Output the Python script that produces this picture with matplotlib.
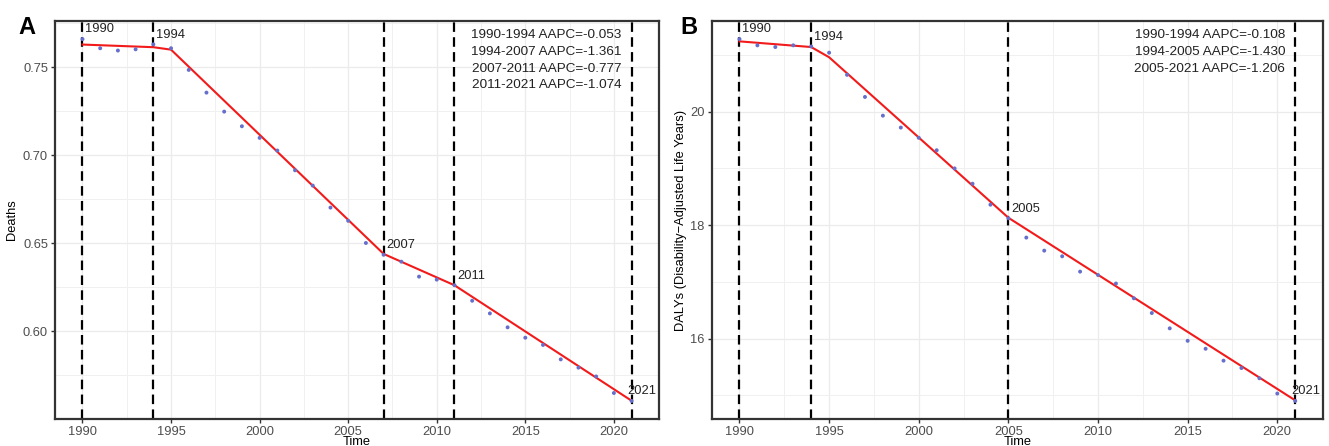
import numpy as np
import matplotlib as mpl
import matplotlib.pyplot as plt
from matplotlib.ticker import MultipleLocator, FormatStrFormatter

mpl.rc('font', family='Liberation Sans', size=9.3)

years = list(range(1990, 2022))

# panel A: deaths
deaths = [0.7660, 0.7608, 0.7595, 0.7602, 0.7630, 0.7608, 0.7485, 0.7356,
          0.7248, 0.7165, 0.7099, 0.7027, 0.6915, 0.6828, 0.6703, 0.6628,
          0.6502, 0.6435, 0.6396, 0.6311, 0.6294, 0.6262, 0.6174, 0.6102,
          0.6023, 0.5964, 0.5923, 0.5841, 0.5794, 0.5744, 0.5650, 0.5605]
deaths_fit_years = [1990, 1994, 1995, 2007, 2011, 2021]
deaths_fit = [0.7629, 0.7614, 0.7600, 0.6440, 0.6262, 0.5606]
deaths_joins = [1990, 1994, 2007, 2011, 2021]
deaths_aapc = ['1990-1994 AAPC=-0.053', '1994-2007 AAPC=-1.361',
               '2007-2011 AAPC=-0.777', '2011-2021 AAPC=-1.074']

# panel B: DALYs
dalys = [21.28, 21.17, 21.14, 21.17, 21.15, 21.04, 20.65, 20.26,
         19.93, 19.72, 19.54, 19.32, 19.00, 18.73, 18.36, 18.12,
         17.78, 17.55, 17.45, 17.18, 17.12, 16.97, 16.71, 16.45,
         16.18, 15.96, 15.82, 15.61, 15.48, 15.30, 15.03, 14.90]
dalys_fit_years = [1990, 1994, 1995, 2005, 2021]
dalys_fit = [21.24, 21.14, 20.96, 18.13, 14.91]
dalys_joins = [1990, 1994, 2005, 2021]
dalys_aapc = ['1990-1994 AAPC=-0.108', '1994-2005 AAPC=-1.430',
              '2005-2021 AAPC=-1.206']


def panel(ax, obs, fit_x, fit_y, joins, aapc, ylab, ymajor, yfmt, ylab_x):
    for y in joins:
        ax.axvline(y, color='black', lw=1.6, dashes=(4.3, 2.4), zorder=2)
    ax.plot(fit_x, fit_y, color='#F21A1A', lw=1.5, zorder=3)
    ax.scatter(years, obs, s=8, color='#6670CC', edgecolors='none', zorder=4)
    for y in joins:
        v = obs[years.index(y)]
        dx = -3 if y == joins[-1] else 2
        ax.annotate(str(y), (y, v), xytext=(dx, 7), textcoords='offset points',
                    ha='left', va='center', fontsize=9.3, color='#222222',
                    zorder=5)
    # one line of AAPC text each, 16.6 px apart
    for i, t in enumerate(aapc):
        ax.annotate(t, (0.938, 0.9565), xycoords='axes fraction',
                    xytext=(0, -16.6 * i), textcoords='offset pixels',
                    ha='right', va='baseline', fontsize=9.7, color='#222222')

    rng = max(obs) - min(obs)
    ax.set_ylim(min(obs) - 0.05 * rng, max(obs) + 0.05 * rng)
    ax.set_xlim(1988.45, 2022.55)
    ax.xaxis.set_major_locator(MultipleLocator(5))
    ax.xaxis.set_minor_locator(MultipleLocator(2.5))
    ax.yaxis.set_major_locator(MultipleLocator(ymajor))
    ax.yaxis.set_minor_locator(MultipleLocator(ymajor / 2))
    ax.yaxis.set_major_formatter(FormatStrFormatter(yfmt))
    ax.grid(which='major', color='#EBEBEB', lw=0.9, zorder=0)
    ax.grid(which='minor', color='#F0F0F0', lw=0.7, zorder=0)
    ax.set_axisbelow(True)
    ax.tick_params(which='major', length=3, width=1, color='#333333',
                   labelcolor='#4D4D4D', labelsize=9.3, pad=2)
    ax.tick_params(which='minor', length=0)
    for s in ax.spines.values():
        s.set_linewidth(1.6)
        s.set_color('#333333')
    ax.set_xlabel('Time', fontsize=9.3)
    ax.xaxis.set_label_coords(0.5, -0.043)
    ax.set_ylabel(ylab, fontsize=9.3)
    ax.yaxis.set_label_coords(ylab_x, 0.5)


fig = plt.figure(figsize=(13.29, 4.46), dpi=100)
ax1 = fig.add_axes([0.0414, 0.0605, 0.4545, 0.8924])
ax2 = fig.add_axes([0.5355, 0.0605, 0.4600, 0.8924])

panel(ax1, deaths, deaths_fit_years, deaths_fit, deaths_joins, deaths_aapc,
      'Deaths', 0.05, '%.2f', -0.061)
panel(ax2, dalys, dalys_fit_years, dalys_fit, dalys_joins, dalys_aapc,
      'DALYs (Disability\u2212Adjusted Life Years)', 2, '%d', -0.040)

fig.text(18 / 1329, 1 - 34 / 446, 'A', fontsize=17, fontweight='bold',
         va='baseline')
fig.text(680 / 1329, 1 - 34 / 446, 'B', fontsize=17, fontweight='bold',
         va='baseline')

fig.savefig('out.png', dpi=100)
